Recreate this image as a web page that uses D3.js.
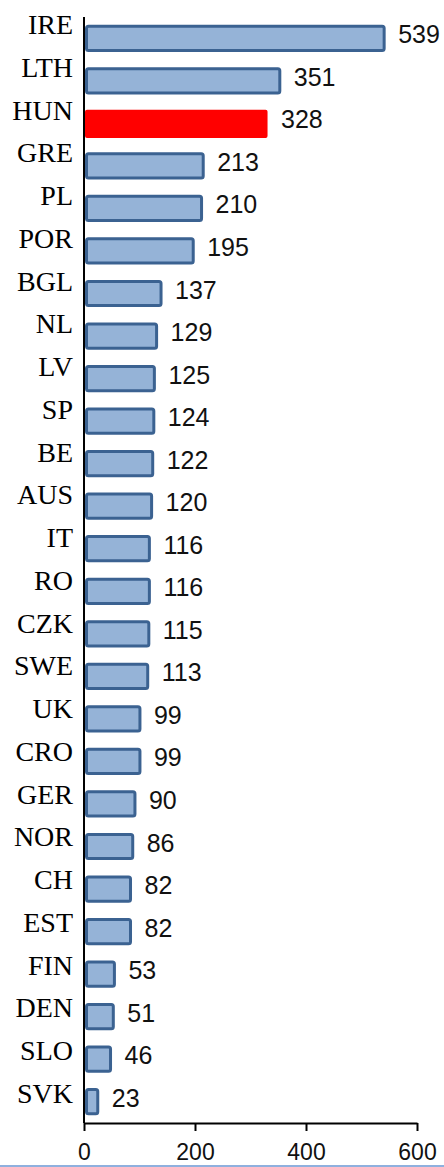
<!DOCTYPE html>
<html>
<head>
<meta charset="utf-8">
<script src="https://cdn.jsdelivr.net/npm/d3@7"></script>
<style>
  body { margin: 0; background: #fff; }
</style>
</head>
<body>
<div id="chart"></div>
<script>
// data
var countries = ["IRE", "LTH", "HUN", "GRE", "PL", "POR", "BGL", "NL", "LV", "SP", "BE", "AUS", "IT",
                 "RO", "CZK", "SWE", "UK", "CRO", "GER", "NOR", "CH", "EST", "FIN", "DEN", "SLO", "SVK"];
var values = [539, 351, 328, 213, 210, 195, 137, 129, 125, 124, 122, 120, 116,
              116, 115, 113, 99, 99, 90, 86, 82, 82, 53, 51, 46, 23];
var xTicks = [0, 200, 400, 600];
var highlight = "HUN";

var W = 444, H = 1167;
var margin = {top: 17, right: 27, bottom: 44, left: 84},
    width = W - margin.left - margin.right,
    height = H - margin.top - margin.bottom;

var svg = d3.select("#chart")
  .append("svg")
    .attr("width", W)
    .attr("height", H);

var g = svg.append("g")
    .attr("transform", "translate(" + margin.left + "," + margin.top + ")");

var x = d3.scaleLinear()
  .domain([0, 600])
  .range([0, width]);

var y = d3.scaleBand()
  .domain(countries)
  .range([0, height])
  .paddingInner(0.36)
  .paddingOuter(0.18);

var data = countries.map(function(c, i) { return {name: c, value: values[i], i: i}; });

// bars
g.selectAll("rect.bar")
  .data(data)
  .enter()
  .append("rect")
    .attr("class", "bar")
    .attr("x", function(d) { return d.name == highlight ? 1 : 2.5; })
    .attr("y", function(d) { return d.name == highlight ? y(d.name) : y(d.name) + 1.5; })
    .attr("width", function(d) { return d.name == highlight ? x(d.value) + 0.5 : x(d.value) - 1.5; })
    .attr("height", function(d) { return d.name == highlight ? y.bandwidth() + 1 : y.bandwidth() - 3; })
    .attr("rx", 2)
    .style("fill", function(d) { return d.name == highlight ? "#ff0000" : "#95b3d7"; })
    .style("stroke", function(d) { return d.name == highlight ? "none" : "#3b6291"; })
    .style("stroke-width", 3);

// value labels
g.selectAll("text.val")
  .data(data)
  .enter()
  .append("text")
    .attr("class", "val")
    .attr("x", function(d) { return x(d.value) + 15; })
    .attr("y", function(d) { return y(d.name) + y.bandwidth() / 2 + 5; })
    .style("font-family", "'Liberation Sans', Arial, sans-serif")
    .style("font-size", "25px")
    .style("fill", "#111")
    .text(function(d) { return d.value; });

// y axis: line plus category labels
g.append("line")
  .attr("x1", 0).attr("x2", 0)
  .attr("y1", 0).attr("y2", height)
  .style("stroke", "#000")
  .style("stroke-width", 2);

g.selectAll("text.cat")
  .data(data)
  .enter()
  .append("text")
    .attr("class", "cat")
    .attr("x", -11)
    .attr("y", function(d) { return y(d.name) + y.bandwidth() / 2 - 4 + d.i * 0.2; })
    .attr("text-anchor", "end")
    .style("font-family", "'Liberation Serif', 'Times New Roman', serif")
    .style("font-size", "28px")
    .style("fill", "#000")
    .text(function(d) { return d.name; });

// x axis
var xAxis = g.append("g")
  .attr("transform", "translate(0," + height + ")")
  .call(d3.axisBottom(x).tickValues(xTicks).tickSize(8).tickSizeOuter(0));

xAxis.select(".domain").style("stroke", "#000").style("stroke-width", 2);
xAxis.selectAll(".tick line").style("stroke", "#000").style("stroke-width", 2);
xAxis.selectAll(".tick text")
  .attr("y", 37)
  .attr("dy", 0)
  .style("font-family", "'Liberation Sans', Arial, sans-serif")
  .style("font-size", "23px")
  .style("fill", "#111");

// thin blue rule at the very bottom
svg.append("line")
  .attr("x1", 0).attr("x2", W)
  .attr("y1", H - 1).attr("y2", H - 1)
  .style("stroke", "#8fb0de")
  .style("stroke-width", 2);
</script>
</body>
</html>
